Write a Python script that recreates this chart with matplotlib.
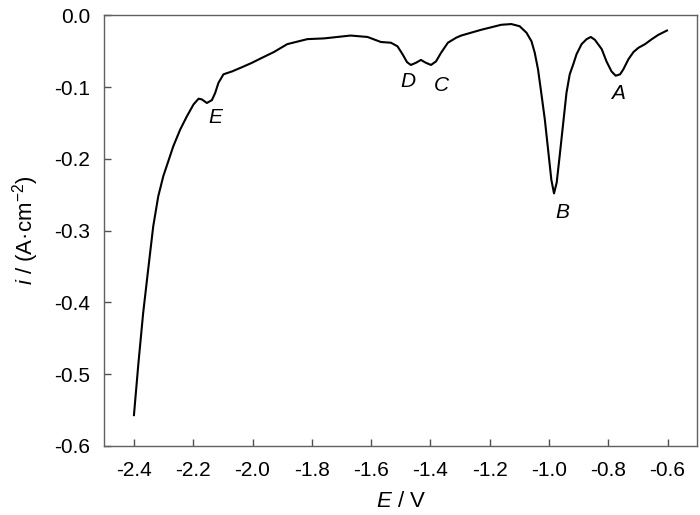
import matplotlib
matplotlib.use('Agg')
import matplotlib.pyplot as plt

plt.rcParams['font.family'] = ['Liberation Sans', 'DejaVu Sans']
plt.rcParams['mathtext.fontset'] = 'custom'
plt.rcParams['mathtext.rm'] = 'Liberation Sans'
plt.rcParams['mathtext.it'] = 'Liberation Sans:italic'

# potencial (V) y densidad de corriente (A/cm2)
potencial = [-2.400, -2.385, -2.369, -2.352, -2.335, -2.318, -2.301, -2.267,
             -2.244, -2.222, -2.199, -2.182, -2.171, -2.154, -2.137, -2.126,
             -2.115, -2.098, -2.069, -2.035, -2.002, -1.968, -1.928, -1.883,
             -1.815, -1.759, -1.669, -1.612, -1.567, -1.533, -1.511, -1.494,
             -1.479, -1.466, -1.449, -1.432, -1.415, -1.398, -1.381, -1.364,
             -1.341, -1.313, -1.296, -1.229, -1.161, -1.127, -1.099, -1.076,
             -1.059, -1.048, -1.037, -1.026, -1.014, -1.003, -0.992, -0.983,
             -0.974, -0.964, -0.952, -0.941, -0.930, -0.918, -0.907, -0.890,
             -0.873, -0.859, -0.845, -0.822, -0.806, -0.789, -0.775, -0.760,
             -0.749, -0.732, -0.715, -0.698, -0.676, -0.653, -0.631, -0.602]
corriente = [-0.557, -0.485, -0.415, -0.354, -0.294, -0.252, -0.224, -0.182,
             -0.159, -0.141, -0.124, -0.116, -0.117, -0.122, -0.118, -0.108,
             -0.094, -0.082, -0.078, -0.072, -0.066, -0.059, -0.051, -0.040,
             -0.033, -0.032, -0.028, -0.030, -0.037, -0.038, -0.043, -0.054,
             -0.065, -0.069, -0.066, -0.062, -0.066, -0.069, -0.064, -0.052,
             -0.038, -0.031, -0.028, -0.020, -0.013, -0.012, -0.015, -0.024,
             -0.036, -0.052, -0.075, -0.108, -0.145, -0.187, -0.229, -0.248,
             -0.233, -0.196, -0.150, -0.108, -0.082, -0.068, -0.054, -0.040,
             -0.033, -0.030, -0.034, -0.047, -0.064, -0.078, -0.084, -0.082,
             -0.075, -0.061, -0.051, -0.045, -0.040, -0.033, -0.027, -0.021]

picos = ['E', 'D', 'C', 'B', 'A']
picos_x = [-2.126, -1.475, -1.363, -0.956, -0.768]
picos_y = [-0.142, -0.092, -0.097, -0.275, -0.109]

fig = plt.figure(figsize=(7, 5.15), dpi=100)
ax = fig.add_axes([0.149, 0.134, 0.847, 0.836])

ax.plot(potencial, corriente, color='black', linewidth=1.5)

for nombre, px, py in zip(picos, picos_x, picos_y):
    ax.text(px, py, nombre, fontsize=15, fontstyle='italic', ha='center', va='center')

ax.set_xlim(-2.5, -0.5)
ax.set_ylim(-0.6, 0.0)
ax.set_xticks([-2.4, -2.2, -2.0, -1.8, -1.6, -1.4, -1.2, -1.0, -0.8, -0.6])
ax.set_yticks([-0.6, -0.5, -0.4, -0.3, -0.2, -0.1, 0.0])
ax.xaxis.set_major_formatter(matplotlib.ticker.FormatStrFormatter('%.1f'))
ax.yaxis.set_major_formatter(matplotlib.ticker.FormatStrFormatter('%.1f'))
ax.tick_params(direction='in', length=5, width=1, colors='#505050', labelcolor='black',
               labelsize=15)
ax.tick_params(axis='x', pad=11)
ax.tick_params(axis='y', pad=10)
for s in ax.spines.values():
    s.set_color('#606060')
    s.set_linewidth(1)

ax.set_xlabel(r'$E$ / V', fontsize=16, labelpad=8)
ax.set_ylabel(r'$i$ / (A·cm$^{-2}$)', fontsize=16, labelpad=10)

fig.savefig('out.png', dpi=100)
